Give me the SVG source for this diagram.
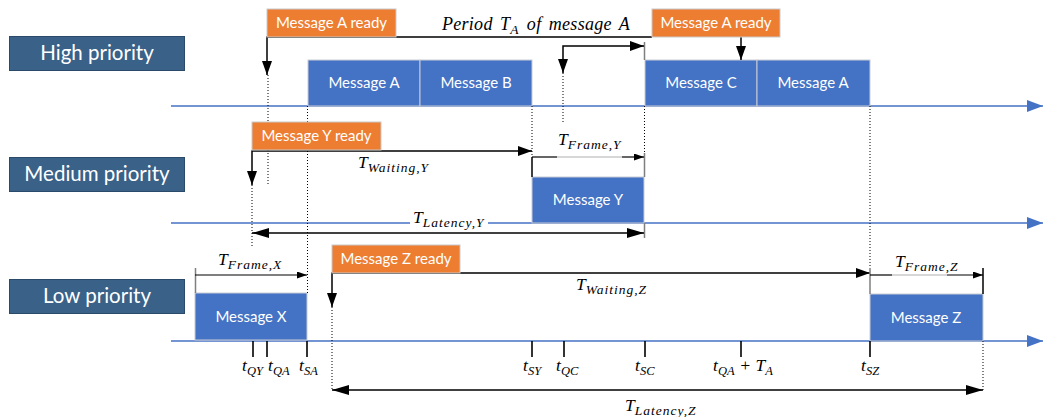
<svg xmlns="http://www.w3.org/2000/svg" width="1043" height="417" viewBox="0 0 1043 417">
  <style>
    .lane { fill: #3A6188; stroke: #2B4A6A; stroke-width: 1; }
    .lane-t { fill: #FFFFFF; font-family: Lato, "Liberation Sans", sans-serif; font-size: 20.5px; text-anchor: middle; }
    .msg { fill: #4472C4; stroke: #C8CCD4; stroke-width: 1; }
    .rdy { fill: #ED7D31; stroke: #C9C9C9; stroke-width: 1; }
    .box-t { fill: #FFFFFF; font-family: Lato, "Liberation Sans", sans-serif; font-size: 15px; text-anchor: middle; }
    .axis { stroke: #4472C4; stroke-width: 1.6; fill: none; }
    .con { stroke: #000000; stroke-width: 1.5; fill: none; }
    .thin { stroke: #000000; stroke-width: 1.2; fill: none; }
    .dot { stroke: #000000; stroke-width: 1; stroke-dasharray: 1 2; fill: none; }
    .grey { stroke: #7F7F7F; stroke-width: 1.5; fill: none; }
    .light { stroke: #B0B0B0; stroke-width: 1.2; fill: none; }
    .tick { stroke: #000000; stroke-width: 1.6; fill: none; }
    .m { fill: #000000; font-family: "Liberation Serif", "DejaVu Serif", serif; font-style: italic; font-size: 17.5px; }
    .sub { font-size: 13.5px; letter-spacing: 1px; }
    .tsub { font-size: 12.5px; letter-spacing: 0.2px; }
    .title { font-size: 18px; letter-spacing: 0.3px; word-spacing: 2.5px; }
  </style>
  <defs>
    <marker id="axisHead" viewBox="0 0 16 12" refX="16" refY="6" markerWidth="16" markerHeight="12" markerUnits="userSpaceOnUse" orient="auto">
      <path d="M0,0 L16,6 L0,12 z" fill="#4472C4"/>
    </marker>
    <marker id="big" viewBox="0 0 14 10" refX="14" refY="5" markerWidth="14" markerHeight="10" markerUnits="userSpaceOnUse" orient="auto-start-reverse">
      <path d="M0,0 L14,5 L0,10 z" fill="#000000"/>
    </marker>
    <marker id="lat" viewBox="0 0 17 10" refX="17" refY="5" markerWidth="17" markerHeight="10" markerUnits="userSpaceOnUse" orient="auto-start-reverse">
      <path d="M0,0 L17,5 L0,10 z" fill="#000000"/>
    </marker>
    <marker id="small" viewBox="0 0 10 7" refX="10" refY="3.5" markerWidth="10" markerHeight="7" markerUnits="userSpaceOnUse" orient="auto">
      <path d="M0,0 L10,3.5 L0,7 z" fill="#000000"/>
    </marker>
  </defs>

  <!-- time axes, one per priority level -->
  <g id="timelines">
    <line class="axis" x1="171" y1="106" x2="1043" y2="106" marker-end="url(#axisHead)"/>
    <line class="axis" x1="171" y1="223" x2="1043" y2="223" marker-end="url(#axisHead)"/>
    <line class="axis" x1="171" y1="341" x2="1043" y2="341" marker-end="url(#axisHead)"/>
  </g>

  <!-- priority level captions -->
  <g id="lane-high">
    <rect class="lane" x="9.5" y="36.5" width="175" height="34"/>
    <text class="lane-t" x="97" y="60">High priority</text>
  </g>
  <g id="lane-medium">
    <rect class="lane" x="9.5" y="157.5" width="175" height="34"/>
    <text class="lane-t" x="97" y="181">Medium priority</text>
  </g>
  <g id="lane-low">
    <rect class="lane" x="9.5" y="279.5" width="175" height="34"/>
    <text class="lane-t" x="97" y="303">Low priority</text>
  </g>

  <!-- frames on the bus -->
  <g id="msg-a1">
    <rect class="msg" x="308" y="60" width="112" height="46"/>
    <text class="box-t" x="364" y="88">Message A</text>
  </g>
  <g id="msg-b">
    <rect class="msg" x="420" y="60" width="112" height="46"/>
    <text class="box-t" x="476" y="88">Message B</text>
  </g>
  <g id="msg-c">
    <rect class="msg" x="645" y="60" width="112" height="46"/>
    <text class="box-t" x="701" y="88">Message C</text>
  </g>
  <g id="msg-a2">
    <rect class="msg" x="757" y="60" width="113" height="46"/>
    <text class="box-t" x="813" y="88">Message A</text>
  </g>
  <g id="msg-y">
    <rect class="msg" x="532" y="177" width="112" height="46"/>
    <text class="box-t" x="588" y="205">Message Y</text>
  </g>
  <g id="msg-x">
    <rect class="msg" x="195" y="293" width="112" height="47"/>
    <text class="box-t" x="251" y="322">Message X</text>
  </g>
  <g id="msg-z">
    <rect class="msg" x="870" y="294" width="113" height="47"/>
    <text class="box-t" x="926" y="323">Message Z</text>
  </g>

  <!-- connectors: ready events, intervals, guide lines -->
  <g id="connectors">
    <!-- period of message A -->
    <path class="con" d="M652,37 H267 V75" marker-end="url(#big)"/>
    <line class="grey" x1="644.5" y1="42" x2="644.5" y2="60"/>
    <path class="con" d="M741,37 V60" marker-end="url(#big)"/>
    <path class="con" d="M563,73 V46 H644" marker-start="url(#big)" marker-end="url(#big)"/>

    <!-- vertical guides -->
    <line class="dot" x1="268" y1="75" x2="268" y2="186"/>
    <line class="dot" x1="563" y1="73" x2="563" y2="122"/>
    <line class="dot" x1="307.5" y1="106" x2="307.5" y2="293"/>
    <line class="dot" x1="532" y1="106" x2="532" y2="157"/>
    <line class="dot" x1="644.5" y1="106" x2="644.5" y2="153"/>
    <line class="dot" x1="252" y1="185" x2="252" y2="247"/>
    <line class="dot" x1="332" y1="307" x2="332" y2="390"/>
    <line class="dot" x1="870" y1="106" x2="870" y2="268"/>
    <line class="dot" x1="983" y1="341" x2="983" y2="390"/>

    <!-- message Y -->
    <path class="con" d="M252,185 V151 H532" marker-start="url(#big)" marker-end="url(#big)"/>
    <line class="con" x1="532" y1="157" x2="532" y2="177"/>
    <line class="grey" x1="644.5" y1="153" x2="644.5" y2="177"/>
    <line class="thin" x1="532" y1="157" x2="557" y2="157"/>
    <line class="light" x1="557" y1="157" x2="622" y2="157"/>
    <line class="thin" x1="622" y1="157" x2="644" y2="157" marker-end="url(#small)"/>
    <line class="grey" x1="644.5" y1="223" x2="644.5" y2="238"/>
    <line class="con" x1="252" y1="233" x2="644" y2="233" marker-start="url(#lat)" marker-end="url(#lat)"/>

    <!-- message X -->
    <line class="grey" x1="195.5" y1="268" x2="195.5" y2="293"/>
    <line class="thin" x1="195" y1="275" x2="307" y2="275" marker-end="url(#small)"/>

    <!-- message Z -->
    <path class="con" d="M332,307 V273 H870" marker-start="url(#big)" marker-end="url(#big)"/>
    <line class="grey" x1="870" y1="268" x2="870" y2="294"/>
    <line class="con" x1="983" y1="268" x2="983" y2="294"/>
    <line class="thin" x1="870" y1="275" x2="892" y2="275"/>
    <line class="light" x1="892" y1="275" x2="947" y2="275"/>
    <line class="thin" x1="947" y1="275" x2="983" y2="275" marker-end="url(#small)"/>
    <line class="con" x1="332" y1="390" x2="983" y2="390" marker-start="url(#lat)" marker-end="url(#lat)"/>

    <!-- time instants on the low priority axis -->
    <line class="tick" x1="253" y1="341" x2="253" y2="357"/>
    <line class="tick" x1="267" y1="341" x2="267" y2="357"/>
    <line class="tick" x1="307" y1="341" x2="307" y2="357"/>
    <line class="tick" x1="532" y1="341" x2="532" y2="357"/>
    <line class="tick" x1="564" y1="341" x2="564" y2="357"/>
    <line class="tick" x1="645" y1="341" x2="645" y2="357"/>
    <line class="tick" x1="741" y1="341" x2="741" y2="357"/>
    <line class="tick" x1="870" y1="341" x2="870" y2="357"/>
  </g>

  <!-- ready events -->
  <g id="ready-a1">
    <rect class="rdy" x="267" y="9" width="129" height="28"/>
    <text class="box-t" x="331.5" y="28">Message A ready</text>
  </g>
  <g id="ready-a2">
    <rect class="rdy" x="652" y="9" width="128" height="28"/>
    <text class="box-t" x="716" y="28">Message A ready</text>
  </g>
  <g id="ready-y">
    <rect class="rdy" x="252" y="122" width="129" height="28"/>
    <text class="box-t" x="316.5" y="141">Message Y ready</text>
  </g>
  <g id="ready-z">
    <rect class="rdy" x="332" y="245" width="128" height="28"/>
    <text class="box-t" x="396" y="264">Message Z ready</text>
  </g>

  <!-- interval and instant labels -->
  <g id="labels">
    <text class="m title" x="536" y="30" text-anchor="middle">Period T<tspan class="sub" dy="4">A</tspan><tspan dy="-4"> of message A</tspan></text>
    <text class="m" x="358" y="168">T<tspan class="sub" dy="4">Waiting,Y</tspan></text>
    <rect x="410" y="211" width="78" height="21" fill="#FFFFFF"/>
    <text class="m" x="413" y="223">T<tspan class="sub" dy="4">Latency,Y</tspan></text>
    <text class="m" x="558" y="145">T<tspan class="sub" dy="4">Frame,Y</tspan></text>
    <text class="m" x="218" y="265">T<tspan class="sub" dy="4">Frame,X</tspan></text>
    <text class="m" x="576" y="290">T<tspan class="sub" dy="4">Waiting,Z</tspan></text>
    <text class="m" x="895" y="267">T<tspan class="sub" dy="4">Frame,Z</tspan></text>
    <text class="m" x="625" y="411">T<tspan class="sub" dy="4">Latency,Z</tspan></text>

    <text class="m" x="242" y="371">t<tspan class="tsub" dy="4">QY</tspan></text>
    <text class="m" x="268" y="371">t<tspan class="tsub" dy="4">QA</tspan></text>
    <text class="m" x="299" y="371">t<tspan class="tsub" dy="4">SA</tspan></text>
    <text class="m" x="523" y="371">t<tspan class="tsub" dy="4">SY</tspan></text>
    <text class="m" x="556" y="371">t<tspan class="tsub" dy="4">QC</tspan></text>
    <text class="m" x="635" y="371">t<tspan class="tsub" dy="4">SC</tspan></text>
    <text class="m" x="713" y="371">t<tspan class="tsub" dy="4">QA</tspan><tspan dy="-4"> + T</tspan><tspan class="tsub" dy="4">A</tspan></text>
    <text class="m" x="861" y="371">t<tspan class="tsub" dy="4">SZ</tspan></text>
  </g>
</svg>
